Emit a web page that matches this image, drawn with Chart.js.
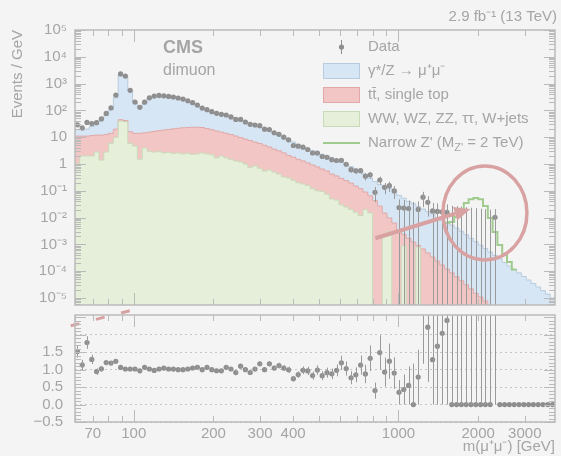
<!DOCTYPE html>
<html>
<head>
<meta charset="utf-8">
<title>Dimuon mass spectrum</title>
<script src="https://cdn.jsdelivr.net/npm/chart.js@4.4.1/dist/chart.umd.min.js"></script>
<style>
  body { margin: 0; background: #f4f4f4; }
  #wrap { position: relative; width: 561px; height: 456px; }
  #wrap canvas { position: absolute; left: 0; }
</style>
</head>
<body>
<div id="wrap">
  <canvas id="main" width="561" height="310" style="top:0px"></canvas>
  <canvas id="ratio" width="561" height="148" style="top:308px"></canvas>
</div>
<script>
// bin edges in GeV
var binEdges = [60.0, 62.56, 65.22, 68.0, 70.9, 73.93, 77.08, 80.36, 83.79, 87.36,
  91.09, 94.97, 99.02, 103.24, 107.64, 112.23, 117.01, 122.0, 127.2, 132.63,
  138.28, 144.17, 150.32, 156.73, 163.41, 170.38, 177.64, 185.21, 193.11, 201.34,
  209.92, 218.87, 228.2, 237.93, 248.07, 258.65, 269.67, 281.17, 293.16, 305.65,
  318.68, 332.27, 346.44, 361.2, 376.6, 392.66, 409.4, 426.85, 445.04, 464.02,
  483.8, 504.42, 525.93, 548.35, 571.72, 596.09, 621.51, 648.0, 675.62, 704.43,
  734.46, 765.77, 798.41, 832.45, 867.93, 904.93, 943.51, 983.73, 1025.7, 1069.4,
  1115.0, 1162.5, 1212.1, 1263.7, 1317.6, 1373.8, 1432.3, 1493.4, 1557.1, 1623.5,
  1692.7, 1764.8, 1840.1, 1918.5, 2000.3, 2085.6, 2174.5, 2267.2, 2363.8, 2464.6,
  2569.6, 2679.2, 2793.4, 2912.5, 3036.6, 3166.1, 3301.1, 3441.8, 3588.5, 3741.5,
  3901.0];

// observed events in each bin
var dataCounts = [74, 59, 99, 94, 106, 152, 253, 429, 1328, 8558,
  7440, 2272, 861, 576, 933, 1414, 1712, 1883, 1906, 1873,
  1862, 1784, 1699, 1533, 1354, 1150, 924, 845, 741, 666,
  642, 629, 556, 466, 489, 408, 349, 342, 336, 261,
  262, 208, 190, 155, 128, 82, 81, 77, 66, 51,
  53, 41, 40, 34, 33, 35, 26, 17, 16, 17,
  11, 13, 3, 9, 5, 6, 4, 1, 1, 1,
  0, 1, 3, 2, 1, 1, 1, 1, 0, 0,
  0, 0, 0, 0, 0, 0, 0, 1, 0, 0,
  0, 0, 0, 0, 0, 0, 0, 0, 0, 0];

// simulation, events / GeV, top of each stacked layer
var mcTotal = [19, 19.5, 20, 25, 37, 47, 64, 105, 300, 2150,
  1880, 550, 200, 135, 190, 290, 350, 355, 335, 325,
  310, 290, 265, 225, 185, 148, 122, 100, 90, 80,
  74, 63, 56, 50, 42, 37, 33, 28, 23, 20,
  16.5, 14, 11.5, 9.6, 8.0, 6.6, 5.4, 4.3, 3.6, 3.1,
  2.6, 2.3, 1.95, 1.65, 1.38, 1.15, 0.95, 0.80, 0.65, 0.50,
  0.40, 0.30, 0.22, 0.17, 0.145, 0.125, 0.11, 0.068, 0.053, 0.040,
  0.033, 0.0256, 0.021, 0.0167, 0.0138, 0.0102, 0.0080, 0.0065, 0.0053, 0.0041,
  0.0031, 0.0023, 0.0017, 0.00127, 0.00094, 0.00070, 0.00052, 0.00039, 0.00029, 0.00021,
  0.000156, 0.000116, 0.000087, 0.000064, 0.000047, 0.000035, 0.000026, 0.000019, 0.000014, 0.0000100];

var mcTopOther = [11, 11, 11, 11.5, 12, 12, 12.5, 14, 20, 45,
  42, 16, 14, 14, 14.5, 15.5, 16.5, 17.5, 18.5, 19.5,
  20.5, 21.5, 22.5, 23, 23.5, 23.5, 23, 21, 19, 17,
  15.5, 14, 12.5, 11.1, 9.7, 8.5, 7.5, 6.6, 5.8, 5.0,
  4.3, 3.6, 3.1, 2.6, 2.1, 1.8, 1.5, 1.3, 1.1, 0.92,
  0.78, 0.65, 0.55, 0.42, 0.36, 0.29, 0.24, 0.195, 0.15, 0.12,
  0.09, 0.065, 0.043, 0.027, 0.0148, 0.0097, 0.0063, 0.0034, 0.0024, 0.0017,
  0.00123, 0.00091, 0.00068, 0.00048, 0.00034, 0.00024, 0.00017, 0.00012, 0.000087, 0.000062,
  0.000044, 0.000031, 0.000022, 0.000015, 0.000011, 0.0000078, 0, 0, 0, 0,
  0, 0, 0, 0, 0, 0, 0, 0, 0, 0];

var mcOther = [1.0, 2.0, 2.0, 2.0, 2.8, 1.4, 2.8, 6, 10, 40,
  38, 6, 4.7, 1.5, 4, 3.0, 2.8, 2.9, 2.6, 2.7,
  2.5, 2.6, 2.4, 2.5, 2.3, 2.4, 2.6, 2.4, 2.2, 1.7,
  2.0, 1.7, 1.5, 1.3, 1.2, 1.0, 0.75, 0.85, 0.7, 0.55,
  0.6, 0.5, 0.42, 0.33, 0.3, 0.25, 0.2, 0.18, 0.16, 0.12,
  0.1, 0.095, 0.075, 0.05, 0.045, 0.03, 0.025, 0.02, 0.016, 0.012,
  0.02, 0.015, 0, 0, 0.002, 0.003, 0, 0, 0.0009, 0,
  0, 0.0008, 0, 0, 0, 0, 0, 0, 0, 0,
  0, 0, 0, 0, 0, 0, 0, 0, 0, 0,
  0, 0, 0, 0, 0, 0, 0, 0, 0, 0];

// stack + narrow Z' signal
var signalTotal = [null, null, null, null, null, null, null, null, null, null,
  null, null, null, null, null, null, null, null, null, null,
  null, null, null, null, null, null, null, null, null, null,
  null, null, null, null, null, null, null, null, null, null,
  null, null, null, null, null, null, null, null, null, null,
  null, null, null, null, null, null, null, null, null, null,
  null, null, null, null, null, null, null, null, null, null,
  null, null, null, null, null, null, null, 0.0065, 0.0069, 0.0106,
  0.019, 0.035, 0.049, 0.054, 0.049, 0.027, 0.0097, 0.0029, 0.00095, 0.00044,
  0.00022, 0.000116, null, null, null, null, null, null, null, null];

var yDecades = [1e-5, 1e-4, 1e-3, 1e-2, 1e-1, 1, 10, 1e2, 1e3, 1e4, 1e5];
var yDecadeLabels = ['10⁻⁵', '10⁻⁴', '10⁻³', '10⁻²', '10⁻¹', '1', '10', '10²', '10³', '10⁴', '10⁵'];
var xTicks = [60, 70, 80, 90, 100, 200, 300, 400, 500, 600, 700, 800, 900, 1000, 2000, 3000];
var xTickLabels = ['', '70', '', '', '100', '200', '300', '400', '', '', '', '', '', '1000', '2000', '3000'];
var ratioTicks = [-0.5, 0, 0.5, 1, 1.5, 2];
var ratioTickLabels = ['−0.5', '0.0', '0.5', '1.0', '1.5', ''];

var FONT = '"Liberation Sans", Arial, sans-serif';
var TEXT = '#a5a5a5';
var POINT = '#8e8e8e';
var MARK = '#d9a2a2';

var nBins = binEdges.length - 1;
var widths = [], centers = [];
for (var i = 0; i < nBins; i++) {
  widths.push(binEdges[i + 1] - binEdges[i]);
  centers.push(Math.sqrt(binEdges[i] * binEdges[i + 1]));
}
var lastFilled = 0;
dataCounts.forEach(function(n, i) { if (n > 0) lastFilled = i; });

var mainPoints = [], mainBars = [], ratioPoints = [], ratioBars = [];
for (i = 0; i < nBins; i++) {
  var n = dataCounts[i], w = widths[i], mc = mcTotal[i];
  if (n > 0) {
    var s = Math.sqrt(n);
    mainPoints.push({x: centers[i], y: n / w});
    mainBars.push({x: centers[i], lo: (n - s) / w, hi: (n + s) / w});
    ratioPoints.push({x: centers[i], y: n / w / mc});
    ratioBars.push({x: centers[i], lo: (n - s) / w / mc, hi: (n + s) / w / mc});
  } else {
    ratioPoints.push({x: centers[i], y: 0});
    if (i < lastFilled) {
      mainBars.push({x: centers[i], lo: 0, hi: 1.84 / w});
      ratioBars.push({x: centers[i], lo: 0, hi: 1.84 / w / mc});
    }
  }
}

function histo(vals) {
  var pts = [];
  for (var i = 0; i <= nBins; i++) {
    var v = vals[Math.min(i, nBins - 1)];
    pts.push({x: binEdges[i], y: v > 0 ? v : 1e-9});
  }
  return pts;
}

var sigPoints = [], lastSig = 0;
signalTotal.forEach(function(v, i) {
  if (v !== null) { sigPoints.push({x: binEdges[i], y: v}); lastSig = i; }
});
sigPoints.push({x: binEdges[lastSig + 1], y: signalTotal[lastSig]});

// minor tick positions
var yMainTicks = [];
yDecades.forEach(function(d) {
  yMainTicks.push({v: d, major: true});
  for (var m = 2; m < 10; m++) if (d * m < 1e5) yMainTicks.push({v: d * m, major: false});
});
for (var m = 6; m < 10; m++) yMainTicks.push({v: 1e-6 * m, major: false});
var xMarks = xTicks.map(function(v) { return {v: v, major: v === 100 || v === 1000}; });
var yRatioTicks = [];
for (var k = -5; k <= 25; k++) yRatioTicks.push({v: k / 10, major: k % 5 === 0});

// fixed axis sizes so both panels line up
function fixWidth(s) { s.width = 75; s.paddingTop = 0; s.paddingBottom = 0; }
function fixHeight(h) {
  return function(s) { s.height = h; s.paddingLeft = 0; s.paddingRight = 0; };
}

// ---------- plugins ----------
var errorBars = {
  id: 'errorBars',
  afterDatasetsDraw: function(chart, args, opts) {
    var ctx = chart.ctx, a = chart.chartArea, xs = chart.scales.x, ys = chart.scales.y;
    ctx.save();
    ctx.beginPath(); ctx.rect(a.left, a.top, a.right - a.left, a.bottom - a.top); ctx.clip();
    ctx.strokeStyle = opts.color; ctx.lineWidth = 1;
    ctx.beginPath();
    opts.bars.forEach(function(b) {
      var px = Math.round(xs.getPixelForValue(b.x)) + 0.5;
      var top = ys.getPixelForValue(b.hi);
      var bot = (opts.log && b.lo <= 0) ? a.bottom : ys.getPixelForValue(b.lo);
      ctx.moveTo(px, bot); ctx.lineTo(px, top);
    });
    ctx.stroke();
    ctx.restore();
  }
};

var annotations = {
  id: 'annotations',
  afterDatasetsDraw: function(chart, args, opts) {
    var ctx = chart.ctx, xs = chart.scales.x, ys = chart.scales.y;
    ctx.save();
    ctx.strokeStyle = MARK; ctx.fillStyle = MARK;
    if (opts.circle) {
      var c = opts.circle;
      ctx.lineWidth = 3.5;
      ctx.beginPath();
      ctx.ellipse(xs.getPixelForValue(c.x), ys.getPixelForValue(c.y), c.rx, c.ry, 0, 0, 2 * Math.PI);
      ctx.stroke();
    }
    if (opts.arrow) {
      var ar = opts.arrow;
      var x0 = xs.getPixelForValue(ar.x0), y0 = ys.getPixelForValue(ar.y0);
      var x1 = xs.getPixelForValue(ar.x1), y1 = ys.getPixelForValue(ar.y1);
      var ang = Math.atan2(y1 - y0, x1 - x0), hl = 16, hw = 7;
      var bx = x1 - hl * Math.cos(ang), by = y1 - hl * Math.sin(ang);
      ctx.lineWidth = 4;
      ctx.beginPath(); ctx.moveTo(x0, y0); ctx.lineTo(bx, by); ctx.stroke();
      ctx.beginPath();
      ctx.moveTo(x1, y1);
      ctx.lineTo(bx + hw * Math.sin(ang), by - hw * Math.cos(ang));
      ctx.lineTo(bx - hw * Math.sin(ang), by + hw * Math.cos(ang));
      ctx.closePath(); ctx.fill();
    }
    if (opts.dashed) {
      var d = opts.dashed;
      ctx.lineWidth = 3; ctx.setLineDash([9, 17]);
      ctx.beginPath();
      ctx.moveTo(xs.getPixelForValue(d.x0), ys.getPixelForValue(d.y0));
      ctx.lineTo(xs.getPixelForValue(d.x1), ys.getPixelForValue(d.y1));
      ctx.stroke();
    }
    ctx.restore();
  }
};

var frameTicks = {
  id: 'frameTicks',
  afterDraw: function(chart, args, opts) {
    var ctx = chart.ctx, a = chart.chartArea, xs = chart.scales.x, ys = chart.scales.y;
    ctx.save();
    ctx.strokeStyle = '#bababa'; ctx.lineWidth = 1;
    ctx.beginPath();
    opts.xTicks.forEach(function(t) {
      var px = Math.round(xs.getPixelForValue(t.v)) + 0.5, len = t.major ? 12 : 6;
      ctx.moveTo(px, a.bottom); ctx.lineTo(px, a.bottom - len);
      ctx.moveTo(px, a.top); ctx.lineTo(px, a.top + len);
    });
    opts.yTicks.forEach(function(t) {
      if (t.v < ys.min || t.v > ys.max) return;
      var py = Math.round(ys.getPixelForValue(t.v)) + 0.5, len = t.major ? 11 : 6;
      ctx.moveTo(a.left, py); ctx.lineTo(a.left + len, py);
      ctx.moveTo(a.right, py); ctx.lineTo(a.right - len, py);
    });
    ctx.stroke();
    ctx.lineWidth = 1.5;
    ctx.strokeRect(a.left, a.top, a.right - a.left, a.bottom - a.top);
    ctx.restore();
  }
};

function drawRich(ctx, text, x, y, size) {
  var parts = text.split(/_\{([^}]*)\}/);
  parts.forEach(function(p, i) {
    if (!p) return;
    if (i % 2) {
      ctx.font = Math.round(size * 0.7) + 'px ' + FONT;
      ctx.fillText(p, x, y + size * 0.3);
    } else {
      ctx.font = size + 'px ' + FONT;
      ctx.fillText(p, x, y);
    }
    x += ctx.measureText(p).width;
  });
}

var labelsAndLegend = {
  id: 'labelsAndLegend',
  afterDraw: function(chart, args, opts) {
    var ctx = chart.ctx, a = chart.chartArea;
    ctx.save();
    ctx.fillStyle = TEXT;
    ctx.textBaseline = 'alphabetic';
    ctx.font = 'bold 18px ' + FONT;
    ctx.fillText('CMS', a.left + 88, a.top + 23);
    ctx.font = '16px ' + FONT;
    ctx.fillText('dimuon', a.left + 88, a.top + 45);
    ctx.font = '15px ' + FONT;
    ctx.textAlign = 'right';
    ctx.fillText('2.9 fb⁻¹ (13 TeV)', a.right + 2, 21);
    ctx.textAlign = 'left';

    var x0 = a.left + 248, y = a.top + 17;
    ctx.textBaseline = 'middle';
    opts.items.forEach(function(it) {
      var ds = chart.data.datasets[it.dataset];
      if (it.kind === 'box') {
        ctx.fillStyle = ds.backgroundColor;
        ctx.fillRect(x0, y - 8, 37, 16);
        ctx.strokeStyle = ds.borderColor; ctx.lineWidth = 1;
        ctx.strokeRect(x0 + 0.5, y - 7.5, 36, 15);
      } else if (it.kind === 'line') {
        ctx.strokeStyle = ds.borderColor; ctx.lineWidth = 2;
        ctx.beginPath(); ctx.moveTo(x0, y); ctx.lineTo(x0 + 37, y); ctx.stroke();
      } else {
        ctx.strokeStyle = POINT; ctx.lineWidth = 1;
        ctx.beginPath(); ctx.moveTo(x0 + 18.5, y - 7); ctx.lineTo(x0 + 18.5, y + 7); ctx.stroke();
        ctx.fillStyle = POINT;
        ctx.beginPath(); ctx.arc(x0 + 18.5, y, 2.6, 0, 2 * Math.PI); ctx.fill();
      }
      ctx.fillStyle = TEXT;
      drawRich(ctx, ds.label, x0 + 45, y, 15);
      y += 24;
    });
    ctx.restore();
  }
};

// ---------- main panel ----------
new Chart(document.getElementById('main'), {
  type: 'line',
  data: {
    datasets: [
      {label: 'Data', data: mainPoints, showLine: false, pointRadius: 2.6,
        pointBackgroundColor: POINT, pointBorderWidth: 0, pointHoverRadius: 0},
      {label: "Narrow Z' (M_{Z'} = 2 TeV)", data: sigPoints, stepped: true,
        borderColor: '#9fcc8e', borderWidth: 2, pointRadius: 0, fill: false},
      {label: 'WW, WZ, ZZ, ττ, W+jets', data: histo(mcOther), stepped: true,
        borderColor: '#c9dab9', backgroundColor: '#e5efda', borderWidth: 1, pointRadius: 0, fill: 'start'},
      {label: 'tt̄, single top', data: histo(mcTopOther), stepped: true,
        borderColor: '#e0a8a8', backgroundColor: '#f3c6c6', borderWidth: 1, pointRadius: 0, fill: 'start'},
      {label: 'γ*/Z → μ⁺μ⁻', data: histo(mcTotal), stepped: true,
        borderColor: '#b8cbdf', backgroundColor: '#d7e6f4', borderWidth: 1, pointRadius: 0, fill: 'start'}
    ]
  },
  options: {
    responsive: false,
    animation: false,
    layout: {padding: {top: 30, right: 6, bottom: 5, left: 0}},
    scales: {
      x: {type: 'logarithmic', min: 60, max: 3901,
        grid: {display: false, drawTicks: false}, border: {display: false}, ticks: {display: false},
        afterFit: fixHeight(0)},
      y: {type: 'logarithmic', min: 5.5e-6, max: 1e5,
        grid: {display: false, drawTicks: false}, border: {display: false},
        afterBuildTicks: function(s) { s.ticks = yDecades.map(function(v) { return {value: v}; }); },
        afterFit: fixWidth,
        ticks: {autoSkip: false, padding: 8, color: TEXT, font: {family: FONT, size: 15},
          callback: function(v) { var k = yDecades.indexOf(v); return k < 0 ? '' : yDecadeLabels[k]; }},
        title: {display: true, text: 'Events / GeV', align: 'end', color: TEXT,
          font: {family: FONT, size: 15}, padding: {top: 9, bottom: 0}}
      }
    },
    plugins: {
      legend: {display: false},
      tooltip: {enabled: false},
      errorBars: {bars: mainBars, log: true, color: '#9a9a9a'},
      annotations: {
        circle: {x: 2121, y: 0.015, rx: 42, ry: 47},
        arrow: {x0: 818, y0: 0.0017, x1: 1870, y1: 0.021}
      },
      frameTicks: {xTicks: xMarks, yTicks: yMainTicks},
      labelsAndLegend: {items: [
        {dataset: 0, kind: 'data'}, {dataset: 4, kind: 'box'}, {dataset: 3, kind: 'box'},
        {dataset: 2, kind: 'box'}, {dataset: 1, kind: 'line'}]}
    }
  },
  plugins: [errorBars, annotations, frameTicks, labelsAndLegend]
});

// ---------- ratio panel ----------
new Chart(document.getElementById('ratio'), {
  type: 'line',
  data: {
    datasets: [
      {label: 'Data / MC', data: ratioPoints, showLine: false, pointRadius: 2.6,
        pointBackgroundColor: POINT, pointBorderWidth: 0, pointHoverRadius: 0}
    ]
  },
  options: {
    responsive: false,
    animation: false,
    layout: {padding: {top: 7, right: 6, bottom: 0, left: 0}},
    scales: {
      x: {type: 'logarithmic', min: 60, max: 3901,
        grid: {display: false, drawTicks: false}, border: {display: false},
        afterBuildTicks: function(s) { s.ticks = xTicks.map(function(v) { return {value: v}; }); },
        afterFit: fixHeight(34),
        ticks: {autoSkip: false, maxRotation: 0, padding: 3, color: TEXT, font: {family: FONT, size: 15},
          callback: function(v) { var k = xTicks.indexOf(v); return k < 0 ? '' : xTickLabels[k]; }},
        title: {display: true, text: 'm(μ⁺μ⁻) [GeV]', align: 'end', color: TEXT,
          font: {family: FONT, size: 15}, padding: {top: 0, bottom: 0}}
      },
      y: {type: 'linear', min: -0.5, max: 2.57,
        grid: {display: true, drawTicks: false, color: '#c6c6c6', lineWidth: 1},
        border: {display: false, dash: [2, 3]},
        afterBuildTicks: function(s) { s.ticks = ratioTicks.map(function(v) { return {value: v}; }); },
        afterFit: fixWidth,
        ticks: {autoSkip: false, padding: 12, color: TEXT, font: {family: FONT, size: 15},
          callback: function(v) { var k = ratioTicks.indexOf(v); return k < 0 ? '' : ratioTickLabels[k]; }}
      }
    },
    plugins: {
      legend: {display: false},
      tooltip: {enabled: false},
      errorBars: {bars: ratioBars, log: false, color: '#9a9a9a'},
      annotations: {dashed: {x0: 57.8, y0: 2.26, x1: 118, y1: 2.86}},
      frameTicks: {xTicks: xMarks, yTicks: yRatioTicks}
    }
  },
  plugins: [errorBars, annotations, frameTicks]
});
</script>
</body>
</html>
